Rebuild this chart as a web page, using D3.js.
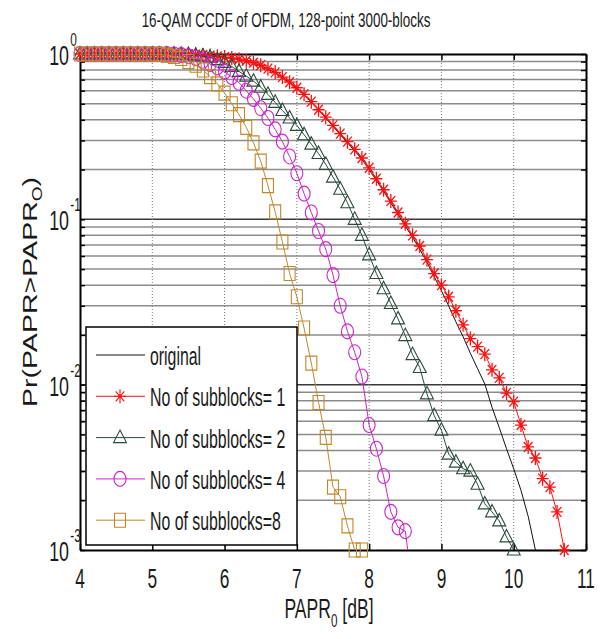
<!DOCTYPE html>
<html>
<head>
<meta charset="utf-8">
<script src="https://cdn.jsdelivr.net/npm/d3@7"></script>
<style>
  body { margin: 0; background: #fff; }
  text { font-family: "Liberation Sans", Arial, sans-serif; fill: #1a1a1a; }
</style>
</head>
<body>
<script>
// PAPR0 sample points (dB)
var papr = [4.0,4.1,4.2,4.3,4.4,4.5,4.6,4.7,4.8,4.9,5.0,5.1,5.2,5.3,5.4,5.5,5.6,5.7,5.8,5.9,
  6.0,6.1,6.2,6.3,6.4,6.5,6.6,6.7,6.8,6.9,7.0,7.1,7.2,7.3,7.4,7.5,7.6,7.7,7.8,7.9,
  8.0,8.1,8.2,8.3,8.4,8.5,8.6,8.7,8.8,8.9,9.0,9.1,9.2,9.3,9.4,9.5,9.6,9.7,9.8,9.9,
  10.0,10.1,10.2,10.3,10.4,10.5,10.6,10.7];

// CCDF values
var original = [1,1,1,1,1,1,1,1,1,1,1,1,1,1,0.998,0.996,0.992,0.985,0.976,0.966,
  0.955,0.942,0.925,0.905,0.88,0.85,0.81,0.77,0.72,0.67,0.62,0.565,0.51,0.46,0.41,0.365,0.325,0.29,0.26,0.23,
  0.20,0.172,0.148,0.126,0.107,0.091,0.078,0.066,0.055,0.045,0.037,0.030,0.024,0.0195,0.0155,0.0125,0.0101,0.0073,0.0055,0.0041,
  0.0031,0.0023,0.0016,0.001];

var sub1 = [1,1,1,1,1,1,1,1,1,1,1,1,1,1,0.998,0.996,0.992,0.986,0.978,0.968,
  0.958,0.946,0.93,0.91,0.885,0.855,0.815,0.775,0.725,0.675,0.625,0.57,0.515,0.46,0.415,0.37,0.33,0.295,0.265,0.235,
  0.205,0.176,0.151,0.129,0.110,0.094,0.080,0.069,0.057,0.047,0.040,0.034,0.028,0.023,0.019,0.017,0.0153,0.0123,0.011,0.0089,
  0.0079,0.0057,0.0042,0.0036,0.0027,0.0024,0.0017,0.001];

var sub2 = [1,1,1,1,1,1,1,1,1,1,1,1,1,1,0.997,0.993,0.985,0.972,0.955,0.925,
  0.89,0.84,0.785,0.735,0.685,0.63,0.57,0.51,0.455,0.41,0.37,0.325,0.285,0.25,0.215,0.18,0.152,0.126,0.10,0.08,
  0.061,0.047,0.038,0.031,0.025,0.0198,0.0152,0.0127,0.0088,0.0065,0.0053,0.0038,0.0034,0.0031,0.003,0.0025,0.0019,0.0017,0.0015,0.0012,
  0.001];

var sub4 = [1,1,1,1,1,1,1,1,1,1,1,1,0.998,0.993,0.985,0.97,0.945,0.91,0.87,0.83,
  0.78,0.725,0.67,0.60,0.535,0.47,0.41,0.35,0.295,0.24,0.19,0.143,0.11,0.085,0.066,0.046,0.030,0.021,0.0157,0.0112,
  0.0057,0.0041,0.0028,0.0017,0.00137,0.0013,0.0006];

var sub8 = [1,1,1,1,1,1,1,1,1,1,1,0.995,0.985,0.965,0.94,0.90,0.855,0.80,0.73,0.66,
  0.58,0.50,0.43,0.36,0.29,0.225,0.16,0.111,0.073,0.047,0.034,0.022,0.0135,0.0078,0.0048,0.0024,0.0021,0.0014,0.001,0.001];

var seriesNames = ['original', 'No of subblocks= 1', 'No of subblocks= 2', 'No of subblocks= 4', 'No of subblocks=8'];
var xTickLabels = ['4', '5', '6', '7', '8', '9', '10', '11'];
var yExponents = ['0', '-1', '-2', '-3'];

var series = [
  {name: seriesNames[0], values: original, color: '#111111', marker: 'none'},
  {name: seriesNames[1], values: sub1, color: '#ff1010', marker: 'star'},
  {name: seriesNames[2], values: sub2, color: '#2b4a3a', marker: 'triangle'},
  {name: seriesNames[3], values: sub4, color: '#cc22cc', marker: 'circle'},
  {name: seriesNames[4], values: sub8, color: '#c0882a', marker: 'square'}
];

var W = 602, H = 639;
var pL = 80, pR = 586, pT = 54, pB = 550;

var svg = d3.select('body').append('svg')
  .attr('width', W)
  .attr('height', H);

var x = d3.scaleLinear().domain([4, 11]).range([pL, pR]);
var y = d3.scaleLog().domain([1e-3, 1]).range([pB, pT]);

svg.append('defs').append('clipPath').attr('id', 'plotclip')
  .append('rect')
  .attr('x', pL).attr('y', pT)
  .attr('width', pR - pL).attr('height', pB - pT);

function isMajor(v) {
  var l = Math.log10(v);
  return Math.abs(l - Math.round(l)) < 1e-9;
}

// grid
var yTicks = y.ticks();
svg.append('g').selectAll('line')
  .data(yTicks.filter(function (d) { return d > 1.0001e-3 && d < 0.9999; }))
  .enter().append('line')
  .attr('x1', pL).attr('x2', pR)
  .attr('y1', function (d) { return y(d); })
  .attr('y2', function (d) { return y(d); })
  .attr('stroke', function (d) { return isMajor(d) ? '#3a3a3a' : '#8c8c8c'; })
  .attr('stroke-width', 1.5);

svg.append('g').selectAll('line')
  .data(x.ticks(7).filter(function (d) { return d > 4 && d < 11; }))
  .enter().append('line')
  .attr('x1', function (d) { return x(d); })
  .attr('x2', function (d) { return x(d); })
  .attr('y1', pT).attr('y2', pB)
  .attr('stroke', '#777')
  .attr('stroke-width', 1)
  .attr('stroke-dasharray', '1,2');

// axes (ticks point inward, box all round)
function styleAxis(g) {
  g.select('.domain').attr('stroke', '#000').attr('stroke-width', 2);
  g.selectAll('.tick line').attr('stroke', '#000').attr('stroke-width', 1.5);
}
svg.append('g').attr('transform', 'translate(0,' + pB + ')')
  .call(d3.axisBottom(x).ticks(7).tickSizeInner(-6).tickSizeOuter(0).tickFormat(''))
  .call(styleAxis);
svg.append('g').attr('transform', 'translate(0,' + pT + ')')
  .call(d3.axisTop(x).ticks(7).tickSizeInner(-6).tickSizeOuter(0).tickFormat(''))
  .call(styleAxis);
svg.append('g').attr('transform', 'translate(' + pL + ',0)')
  .call(d3.axisLeft(y).tickValues(yTicks).tickSizeInner(-5).tickSizeOuter(0).tickFormat(''))
  .call(styleAxis);
svg.append('g').attr('transform', 'translate(' + pR + ',0)')
  .call(d3.axisRight(y).tickValues(yTicks).tickSizeInner(-5).tickSizeOuter(0).tickFormat(''))
  .call(styleAxis);

// tick labels
svg.append('g').selectAll('text')
  .data(x.ticks(7))
  .enter().append('text')
  .attr('transform', function (d) { return 'translate(' + x(d) + ',588) scale(0.64,1)'; })
  .attr('text-anchor', 'middle')
  .style('font-size', '27px')
  .text(function (d, i) { return xTickLabels[i]; });

var yMajor = [1, 0.1, 0.01, 0.001];
var yl = svg.append('g').selectAll('g')
  .data(yMajor)
  .enter().append('g')
  .attr('transform', function (d) { return 'translate(69,' + (y(d) + 11) + ') scale(0.66,1)'; });
yl.append('text')
  .attr('text-anchor', 'end')
  .style('font-size', '27px')
  .text('10');
yl.append('text')
  .attr('x', 2)
  .attr('y', -19)
  .style('font-size', '18px')
  .text(function (d, i) { return yExponents[i]; });

// series
var line = d3.line()
  .x(function (d) { return x(d[0]); })
  .y(function (d) { return y(d[1]); });

function markerPath(type) {
  if (type === 'star') return 'M-6,0H6M0,-7V7M-4.3,-5L4.3,5M-4.3,5L4.3,-5';
  if (type === 'triangle') return 'M0,-7.5L6.5,5H-6.5Z';
  if (type === 'square') return 'M-5.5,-7H5.5V7H-5.5Z';
  if (type === 'circle') return 'M-6,0A6,7.5 0 1,0 6,0A6,7.5 0 1,0 -6,0Z';
  return '';
}

series.forEach(function (s) {
  var pts = s.values.map(function (v, i) { return [papr[i], v]; });
  svg.append('path')
    .datum(pts)
    .attr('clip-path', 'url(#plotclip)')
    .attr('fill', 'none')
    .attr('stroke', s.color)
    .attr('stroke-width', 1)
    .attr('d', line);
  if (s.marker === 'none') return;
  svg.append('g').selectAll('path')
    .data(pts.filter(function (p) { return p[1] >= 0.99e-3; }))
    .enter().append('path')
    .attr('transform', function (d) { return 'translate(' + x(d[0]) + ',' + y(d[1]) + ')'; })
    .attr('d', markerPath(s.marker))
    .attr('fill', 'none')
    .attr('stroke', s.color)
    .attr('stroke-width', s.marker === 'star' ? 1.3 : 1.1);
});

// legend
var lg = svg.append('g');
lg.append('rect')
  .attr('x', 86).attr('y', 327)
  .attr('width', 211).attr('height', 218)
  .attr('fill', '#fff')
  .attr('stroke', '#000')
  .attr('stroke-width', 1.5);
var rows = lg.selectAll('g.row')
  .data(series)
  .enter().append('g')
  .attr('class', 'row')
  .attr('transform', function (d, i) { return 'translate(0,' + (355 + i * 41.3) + ')'; });
rows.append('line')
  .attr('x1', 96).attr('x2', 145)
  .attr('stroke', function (d) { return d.color; })
  .attr('stroke-width', 1);
rows.append('path')
  .attr('transform', 'translate(120,0)')
  .attr('d', function (d) { return markerPath(d.marker); })
  .attr('fill', 'none')
  .attr('stroke', function (d) { return d.color; })
  .attr('stroke-width', 1.1);
rows.append('text')
  .attr('transform', 'translate(150,10) scale(0.61,1)')
  .style('font-size', '26px')
  .text(function (d) { return d.name; });

// title and axis labels
svg.append('text')
  .attr('transform', 'translate(286,27) scale(0.64,1)')
  .attr('text-anchor', 'middle')
  .style('font-size', '21px')
  .text('16-QAM CCDF of OFDM, 128-point 3000-blocks');

var xl = svg.append('text')
  .attr('transform', 'translate(329,618) scale(0.65,1)')
  .attr('text-anchor', 'middle')
  .style('font-size', '27px');
xl.append('tspan').text('PAPR');
xl.append('tspan').attr('dy', 9).style('font-size', '18px').text('0');
xl.append('tspan').attr('dy', -9).text(' [dB]');

var ylab = svg.append('text')
  .attr('transform', 'translate(37,292) rotate(-90) scale(1.36,1)')
  .attr('text-anchor', 'middle')
  .style('font-size', '21px');
ylab.append('tspan').text('Pr(PAPR>PAPR');
ylab.append('tspan').attr('dy', 5).style('font-size', '14px').text('O');
ylab.append('tspan').attr('dy', -5).text(')');
</script>
</body>
</html>
